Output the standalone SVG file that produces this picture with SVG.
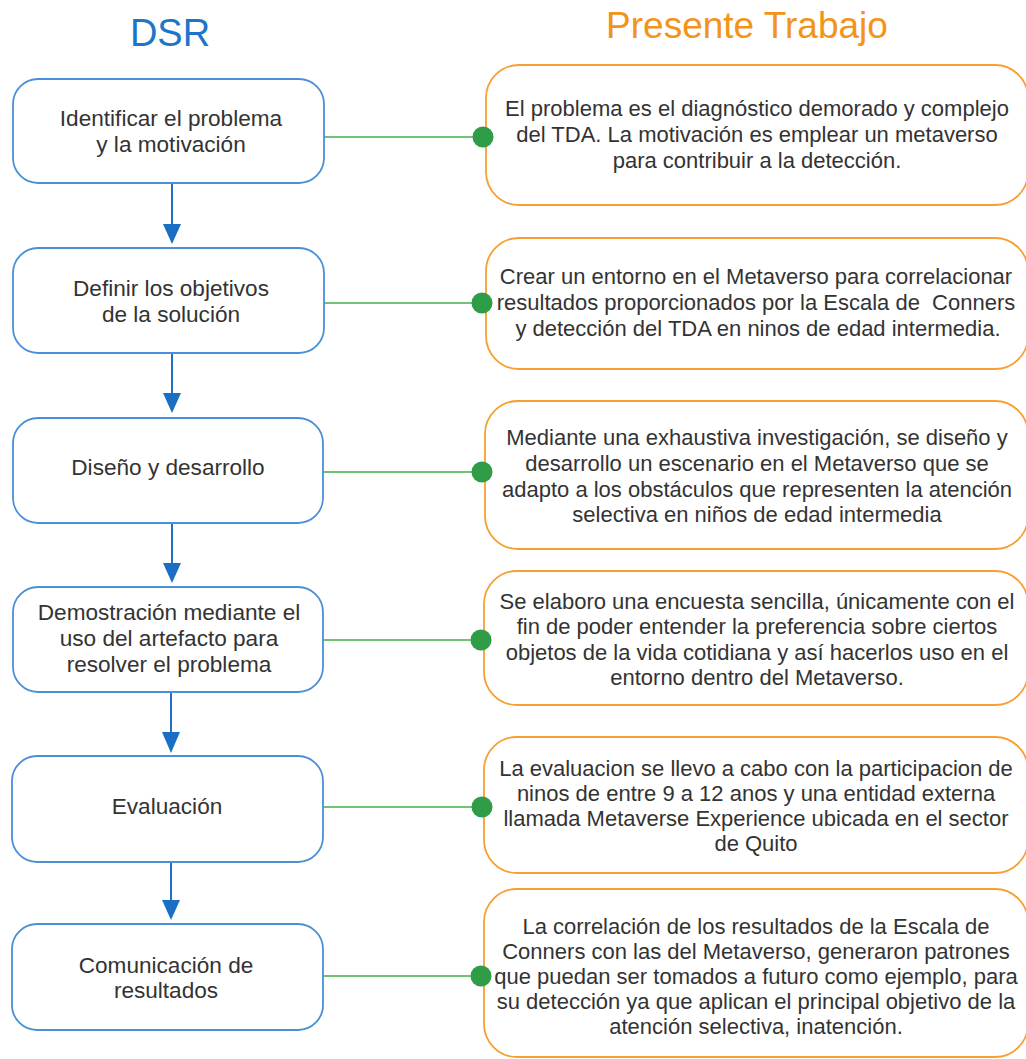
<svg xmlns="http://www.w3.org/2000/svg" width="1026" height="1059" viewBox="0 0 1026 1059">
<defs>
<style>
text{font-family:"Liberation Sans",Arial,sans-serif;fill:#333;text-anchor:middle}
.t{font-size:22.6px}
.r{font-size:22px}
.lb{fill:#fff;stroke:#4A8FD8;stroke-width:1.8}
.rb{fill:#fff;stroke:#F5A030;stroke-width:1.8}
.arr{stroke:#1F72C6;stroke-width:2;fill:none}
.ah{fill:#1A6FC4}
.gl{stroke:#72C178;stroke-width:2}
.gd{fill:#2F9C47}
</style>
</defs>
<rect width="1026" height="1059" fill="#fff"/>
<text x="170" y="46" style="font-size:38px;fill:#1B76CA">DSR</text>
<text x="747" y="38" style="font-size:37px;fill:#F39318">Presente Trabajo</text>

<g id="connectors">
<line class="arr" x1="172" y1="183" x2="172" y2="226"/>
<polygon class="ah" points="163,224 181,224 172,244"/>
<line class="arr" x1="172" y1="353" x2="172" y2="395"/>
<polygon class="ah" points="163,393 181,393 172,413"/>
<line class="arr" x1="172" y1="523" x2="172" y2="565"/>
<polygon class="ah" points="163,563 181,563 172,583"/>
<line class="arr" x1="171" y1="692" x2="171" y2="734"/>
<polygon class="ah" points="162,732 180,732 171,753"/>
<line class="arr" x1="171" y1="862" x2="171" y2="902"/>
<polygon class="ah" points="162,900 180,900 171,920"/>
<line class="gl" x1="324" y1="137" x2="483" y2="137"/>
<line class="gl" x1="324" y1="303" x2="482" y2="303"/>
<line class="gl" x1="323" y1="472" x2="482" y2="472"/>
<line class="gl" x1="323" y1="640" x2="481" y2="640"/>
<line class="gl" x1="323" y1="807" x2="482" y2="807"/>
<line class="gl" x1="323" y1="976" x2="481" y2="976"/>
</g>

<g id="dsr1"><rect class="lb" x="13" y="79" width="311" height="104" rx="25"/>
<text class="t" x="171" y="126">Identificar el problema</text><text class="t" x="171" y="152">y la motivación</text></g>
<g id="dsr2"><rect class="lb" x="13" y="248" width="311" height="105" rx="25"/>
<text class="t" x="171" y="296">Definir los objetivos</text><text class="t" x="171" y="322">de la solución</text></g>
<g id="dsr3"><rect class="lb" x="13" y="418" width="310" height="105" rx="25"/>
<text class="t" x="168" y="475">Diseño y desarrollo</text></g>
<g id="dsr4"><rect class="lb" x="13" y="587" width="310" height="105" rx="25"/>
<text class="t" x="169" y="620">Demostración mediante el</text><text class="t" x="169" y="646">uso del artefacto para</text><text class="t" x="169" y="672">resolver el problema</text></g>
<g id="dsr5"><rect class="lb" x="12" y="756" width="311" height="106" rx="25"/>
<text class="t" x="167" y="814">Evaluación</text></g>
<g id="dsr6"><rect class="lb" x="12" y="924" width="311" height="106" rx="25"/>
<text class="t" x="166" y="973">Comunicación de</text><text class="t" x="166" y="998">resultados</text></g>

<g id="pt1"><rect class="rb" x="486" y="65" width="542" height="140" rx="33"/>
<text class="r" x="757" y="116">El problema es el diagnóstico demorado y complejo</text>
<text class="r" x="757" y="142">del TDA. La motivación es emplear un metaverso</text>
<text class="r" x="757" y="168">para contribuir a la detección.</text></g>
<g id="pt2"><rect class="rb" x="486" y="238" width="542" height="131" rx="33"/>
<text class="r" x="756" y="284">Crear un entorno en el Metaverso para correlacionar</text>
<text class="r" x="756" y="310" xml:space="preserve">resultados proporcionados por la Escala de  Conners</text>
<text class="r" x="758" y="336">y detección del TDA en ninos de edad intermedia.</text></g>
<g id="pt3"><rect class="rb" x="485" y="401" width="543" height="148" rx="33"/>
<text class="r" x="757" y="445">Mediante una exhaustiva investigación, se diseño y</text>
<text class="r" x="757" y="471">desarrollo un escenario en el Metaverso que se</text>
<text class="r" x="757" y="497">adapto a los obstáculos que representen la atención</text>
<text class="r" x="757" y="522">selectiva en niños de edad intermedia</text></g>
<g id="pt4"><rect class="rb" x="484" y="571" width="544" height="134" rx="33"/>
<text class="r" x="757" y="609">Se elaboro una encuesta sencilla, únicamente con el</text>
<text class="r" x="757" y="634">fin de poder entender la preferencia sobre ciertos</text>
<text class="r" x="757" y="660">objetos de la vida cotidiana y así hacerlos uso en el</text>
<text class="r" x="757" y="685">entorno dentro del Metaverso.</text></g>
<g id="pt5"><rect class="rb" x="484" y="737" width="544" height="136" rx="33"/>
<text class="r" x="756" y="776">La evaluacion se llevo a cabo con la participacion de</text>
<text class="r" x="756" y="801">ninos de entre 9 a 12 anos y una entidad externa</text>
<text class="r" x="756" y="826">llamada Metaverse Experience ubicada en el sector</text>
<text class="r" x="756" y="851">de Quito</text></g>
<g id="pt6"><rect class="rb" x="484" y="889" width="544" height="168" rx="33"/>
<text class="r" x="756" y="934">La correlación de los resultados de la Escala de</text>
<text class="r" x="756" y="959">Conners con las del Metaverso, generaron patrones</text>
<text class="r" x="756" y="984">que puedan ser tomados a futuro como ejemplo, para</text>
<text class="r" x="756" y="1009">su detección ya que aplican el principal objetivo de la</text>
<text class="r" x="756" y="1034">atención selectiva, inatención.</text></g>

<g id="dots">
<circle class="gd" cx="483" cy="137" r="10.5"/>
<circle class="gd" cx="482" cy="303" r="10.5"/>
<circle class="gd" cx="482" cy="472" r="10.5"/>
<circle class="gd" cx="481" cy="640" r="10.5"/>
<circle class="gd" cx="482" cy="807" r="10.5"/>
<circle class="gd" cx="481" cy="976" r="10.5"/>
</g>
</svg>
